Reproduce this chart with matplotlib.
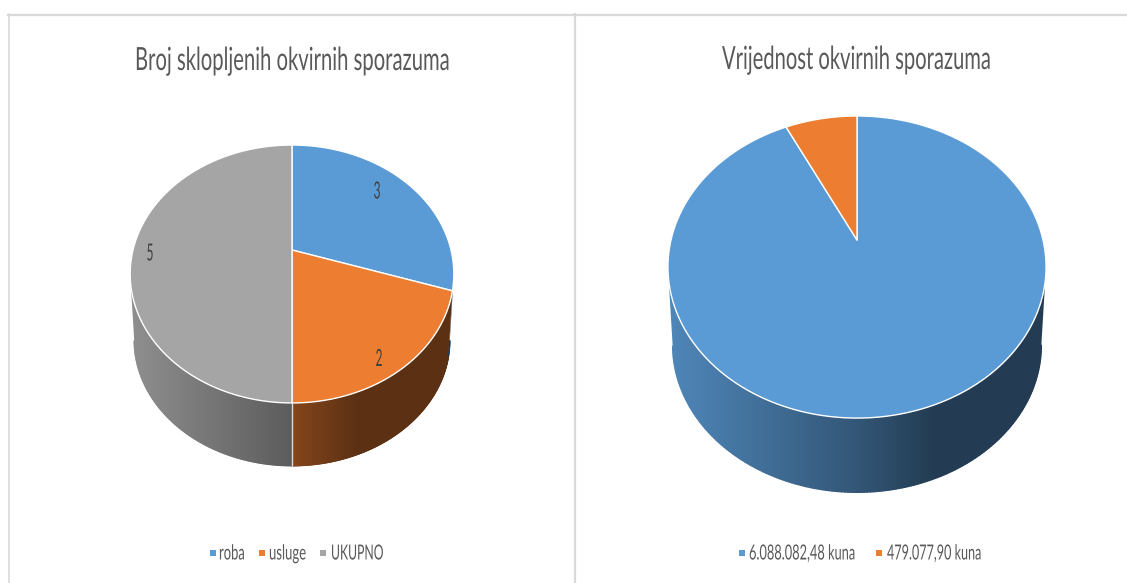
import numpy as np
import matplotlib
matplotlib.use("Agg")
import matplotlib.pyplot as plt
from matplotlib.collections import LineCollection
from matplotlib.patches import Polygon
from matplotlib.patheffects import AbstractPathEffect
from matplotlib.transforms import Affine2D
from matplotlib.colors import to_rgb

# ---- data
left_title = "Broj sklopljenih okvirnih sporazuma"
left_categories = ["roba", "usluge", "UKUPNO"]
left_values = [3, 2, 5]
left_labels = ["3", "2", "5"]
right_title = "Vrijednost okvirnih sporazuma"
right_categories = ["6.088.082,48 kuna", "479.077,90 kuna"]
right_values = [6088082.48, 479077.90]
colors = ["#5B9BD5", "#ED7D31", "#A5A5A5"]

plt.rcParams["font.family"] = ["Lato", "DejaVu Sans"]
fig = plt.figure(figsize=(11.27, 5.83), dpi=100, facecolor="white")
ax = fig.add_axes([0, 0, 1, 1])
ax.set_xlim(0, 1127)
ax.set_ylim(583, 0)
ax.axis("off")


class Reshape(AbstractPathEffect):
    """Scale a text's outline about its left end of the baseline."""
    def __init__(self, sx, sy):
        super().__init__()
        self.sx, self.sy = sx, sy

    def draw_path(self, renderer, gc, tpath, affine, rgbFace=None):
        renderer.draw_path(gc, tpath, Affine2D().scale(self.sx, self.sy) + affine, rgbFace)


def fitted_text(x0, x1, baseline, s, size, color, sx=0.8):
    """Text spanning x0..x1 with the glyph height of `size` pt (condensed look)."""
    t = ax.text(x0, baseline, s, fontsize=10, color=color, ha="left", va="baseline", zorder=10)
    w10 = t.get_window_extent(fig.canvas.get_renderer()).width
    nominal = 10 * (x1 - x0) / (sx * w10)
    t.set_fontsize(nominal)
    t.set_path_effects([Reshape(sx, size / nominal)])
    return t


def shade(f):
    return np.interp(f, [0, 0.5, 0.7, 1], [0.87, 0.56, 0.39, 0.39])


def pie3d(values, cx, cy, a, b, k, rx, ey, ry, drop, scale=0.975):
    vals = np.asarray(values, dtype=float)
    edges = np.concatenate([[0], np.cumsum(vals) / vals.sum()]) * 2 * np.pi

    def top(th):
        w = 1 + k * np.cos(th)
        return a * np.sin(th) / w, -b * np.cos(th) / w  # relative to apex, y down

    def bottom(th):
        X, Y = top(th)
        return cx + scale * X, ey + drop + scale * (Y + cy - ey)

    ramp = np.linspace(0, 1, 400)
    ymin, ymax = cy - b, ey + drop + ry + 5
    # side walls: horizontal gradient images clipped to the front part of each slice
    for i, col in enumerate(colors[:len(vals)]):
        th = np.linspace(edges[i], edges[i + 1], 400)
        th = th[np.cos(th) <= -k]
        if len(th) < 2:
            continue
        X, Y = top(th)
        xt, yt = cx + X, cy + Y
        xb, yb = bottom(th)
        base = np.array(to_rgb(col))
        grad = (shade(ramp)[:, None] * base)[None, :, :]
        im = ax.imshow(grad, extent=(cx - rx, cx + rx, ymax, ymin), aspect="auto",
                       interpolation="bilinear", zorder=2)
        wall = Polygon(np.column_stack([np.r_[xt, xb[::-1]], np.r_[yt, yb[::-1]]]),
                       closed=True, transform=ax.transData, facecolor="none", edgecolor="none")
        im.set_clip_path(wall)
        # anti-aliased lower rim, same gradient
        segs = np.stack([np.column_stack([xb[:-1], yb[:-1]]), np.column_stack([xb[1:], yb[1:]])], axis=1)
        f = (0.5 * (xb[:-1] + xb[1:]) - (cx - rx)) / (2 * rx)
        ax.add_collection(LineCollection(segs, colors=shade(f)[:, None] * base, linewidths=1.0,
                                         capstyle="round", zorder=2.5))
    ax.set_xlim(0, 1127)
    ax.set_ylim(583, 0)
    # seams on the front of the wall
    for e in edges[:-1]:
        if np.cos(e) < -0.5:
            X, Y = top(e)
            xb, yb = bottom(e)
            ax.plot([cx + X, xb], [cy + Y, yb], color="#d9d9d9", lw=1.0, zorder=3, solid_capstyle="butt")
    # top faces
    for i, col in enumerate(colors[:len(vals)]):
        th = np.linspace(edges[i], edges[i + 1], 240)
        X, Y = top(th)
        pts = np.column_stack([np.r_[cx, cx + X], np.r_[cy, cy + Y]])
        ax.add_patch(Polygon(pts, closed=True, facecolor=col, edgecolor="white", lw=1.0,
                             joinstyle="round", zorder=4))


# panel frame
frame = "#d9d9d9"
ax.plot([8, 1127], [14.5, 14.5], color=frame, lw=1.6, zorder=1)
ax.plot([8.5, 8.5], [14, 583], color=frame, lw=1.2, zorder=1)
ax.plot([575, 575], [14, 583], color=frame, lw=1.6, zorder=1)

pie3d(left_values, 292, 250, 159, 124.5, 0.186, 162, 274, 129, 66)
pie3d(right_values, 857, 240, 186, 146.2, 0.179, 189, 267, 151, 78)

# titles
fitted_text(135, 451, 70, left_title, 23, "#595959")
fitted_text(722, 992, 69, right_title, 23, "#595959")

# data labels
for (x, y), s in zip([(377, 198.5), (379, 366), (150, 260.5)], left_labels):
    fitted_text(x - 3.5, x + 3.5, y, s, 17, "#404040")

# legends
def legend(items):
    for sq, x0, x1, s, col in items:
        ax.scatter([sq], [552.5], marker="s", s=22, color=col, linewidths=0, zorder=6)
        fitted_text(x0, x1, 559.5, s, 15, "#595959")

legend([(212.5, 219, 245, left_categories[0], colors[0]),
        (262, 269, 306, left_categories[1], colors[1]),
        (323, 331, 383, left_categories[2], colors[2]),
        (741.5, 749, 855, right_categories[0], colors[0]),
        (879, 887, 981, right_categories[1], colors[1])])

fig.savefig("out.png", dpi=100)
